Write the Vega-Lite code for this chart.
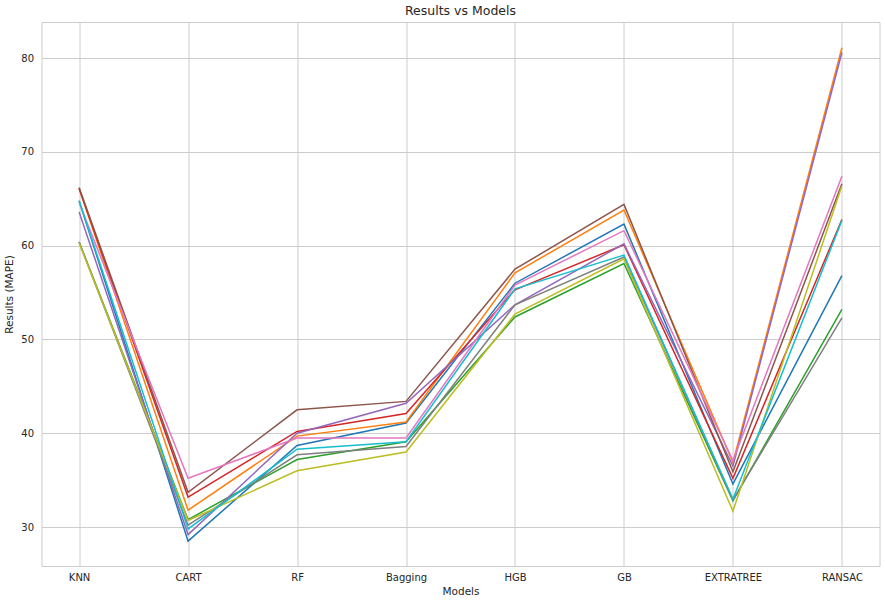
{
  "$schema": "https://vega.github.io/schema/vega-lite/v6.json",
  "width": 838,
  "height": 544,
  "autosize": {"type": "none"},
  "padding": {"left": 41.5, "top": 22, "right": 5, "bottom": 38},
  "background": "white",
  "title": {"text": "Results vs Models", "fontSize": 12.5, "font": "DejaVu Sans", "fontWeight": "normal", "color": "#262626", "offset": 5},
  "config": {
    "view": {"stroke": "#cccccc", "strokeWidth": 1},
    "axis": {"labelFont": "DejaVu Sans", "titleFont": "DejaVu Sans", "labelFontSize": 10, "titleFontSize": 10.5, "titleFontWeight": "normal", "labelColor": "#262626", "titleColor": "#262626", "gridColor": "#cccccc", "gridWidth": 1, "domain": false, "ticks": false}
  },
  "data": {"values": [
    {"model":"KNN","s":"s0","v":64.8},{"model":"CART","s":"s0","v":28.5},{"model":"RF","s":"s0","v":38.7},{"model":"Bagging","s":"s0","v":41.1},{"model":"HGB","s":"s0","v":56.0},{"model":"GB","s":"s0","v":62.3},{"model":"EXTRATREE","s":"s0","v":34.6},{"model":"RANSAC","s":"s0","v":56.8},
    {"model":"KNN","s":"s1","v":66.1},{"model":"CART","s":"s1","v":31.8},{"model":"RF","s":"s1","v":39.7},{"model":"Bagging","s":"s1","v":41.2},{"model":"HGB","s":"s1","v":57.1},{"model":"GB","s":"s1","v":63.8},{"model":"EXTRATREE","s":"s1","v":36.9},{"model":"RANSAC","s":"s1","v":81.1},
    {"model":"KNN","s":"s2","v":60.4},{"model":"CART","s":"s2","v":30.8},{"model":"RF","s":"s2","v":37.2},{"model":"Bagging","s":"s2","v":39.1},{"model":"HGB","s":"s2","v":52.4},{"model":"GB","s":"s2","v":58.1},{"model":"EXTRATREE","s":"s2","v":32.8},{"model":"RANSAC","s":"s2","v":53.2},
    {"model":"KNN","s":"s3","v":66.1},{"model":"CART","s":"s3","v":33.2},{"model":"RF","s":"s3","v":40.2},{"model":"Bagging","s":"s3","v":42.1},{"model":"HGB","s":"s3","v":55.3},{"model":"GB","s":"s3","v":60.1},{"model":"EXTRATREE","s":"s3","v":35.2},{"model":"RANSAC","s":"s3","v":62.8},
    {"model":"KNN","s":"s4","v":63.6},{"model":"CART","s":"s4","v":29.2},{"model":"RF","s":"s4","v":40.0},{"model":"Bagging","s":"s4","v":43.2},{"model":"HGB","s":"s4","v":53.7},{"model":"GB","s":"s4","v":60.2},{"model":"EXTRATREE","s":"s4","v":36.5},{"model":"RANSAC","s":"s4","v":80.6},
    {"model":"KNN","s":"s5","v":66.2},{"model":"CART","s":"s5","v":33.7},{"model":"RF","s":"s5","v":42.5},{"model":"Bagging","s":"s5","v":43.4},{"model":"HGB","s":"s5","v":57.5},{"model":"GB","s":"s5","v":64.4},{"model":"EXTRATREE","s":"s5","v":35.9},{"model":"RANSAC","s":"s5","v":66.6},
    {"model":"KNN","s":"s6","v":64.6},{"model":"CART","s":"s6","v":35.2},{"model":"RF","s":"s6","v":39.5},{"model":"Bagging","s":"s6","v":39.5},{"model":"HGB","s":"s6","v":55.8},{"model":"GB","s":"s6","v":61.6},{"model":"EXTRATREE","s":"s6","v":37.1},{"model":"RANSAC","s":"s6","v":67.4},
    {"model":"KNN","s":"s7","v":60.4},{"model":"CART","s":"s7","v":30.2},{"model":"RF","s":"s7","v":37.7},{"model":"Bagging","s":"s7","v":38.6},{"model":"HGB","s":"s7","v":53.7},{"model":"GB","s":"s7","v":58.8},{"model":"EXTRATREE","s":"s7","v":32.9},{"model":"RANSAC","s":"s7","v":52.3},
    {"model":"KNN","s":"s8","v":60.3},{"model":"CART","s":"s8","v":30.7},{"model":"RF","s":"s8","v":36.0},{"model":"Bagging","s":"s8","v":38.0},{"model":"HGB","s":"s8","v":52.7},{"model":"GB","s":"s8","v":58.6},{"model":"EXTRATREE","s":"s8","v":31.7},{"model":"RANSAC","s":"s8","v":66.4},
    {"model":"KNN","s":"s9","v":64.8},{"model":"CART","s":"s9","v":29.8},{"model":"RF","s":"s9","v":38.3},{"model":"Bagging","s":"s9","v":39.1},{"model":"HGB","s":"s9","v":55.4},{"model":"GB","s":"s9","v":59.0},{"model":"EXTRATREE","s":"s9","v":33.0},{"model":"RANSAC","s":"s9","v":62.7}
  ]},
  "mark": {"type": "line", "strokeWidth": 1.5},
  "encoding": {
    "x": {"field": "model", "type": "nominal", "sort": ["KNN","CART","RF","Bagging","HGB","GB","EXTRATREE","RANSAC"], "scale": {"type": "point", "padding": 0.345}, "axis": {"title": "Models", "labelAngle": 0, "labelPadding": 6, "titlePadding": 4, "grid": true}},
    "y": {"field": "v", "type": "quantitative", "scale": {"domain": [25.85, 83.85], "nice": false, "zero": false}, "axis": {"title": "Results (MAPE)", "values": [30,40,50,60,70,80], "labelPadding": 8, "titlePadding": 6}},
    "color": {"field": "s", "type": "nominal", "scale": {"domain": ["s0","s1","s2","s3","s4","s5","s6","s7","s8","s9"], "range": ["#1f77b4","#ff7f0e","#2ca02c","#d62728","#9467bd","#8c564b","#e377c2","#7f7f7f","#bcbd22","#17becf"]}, "legend": null}
  }
}
